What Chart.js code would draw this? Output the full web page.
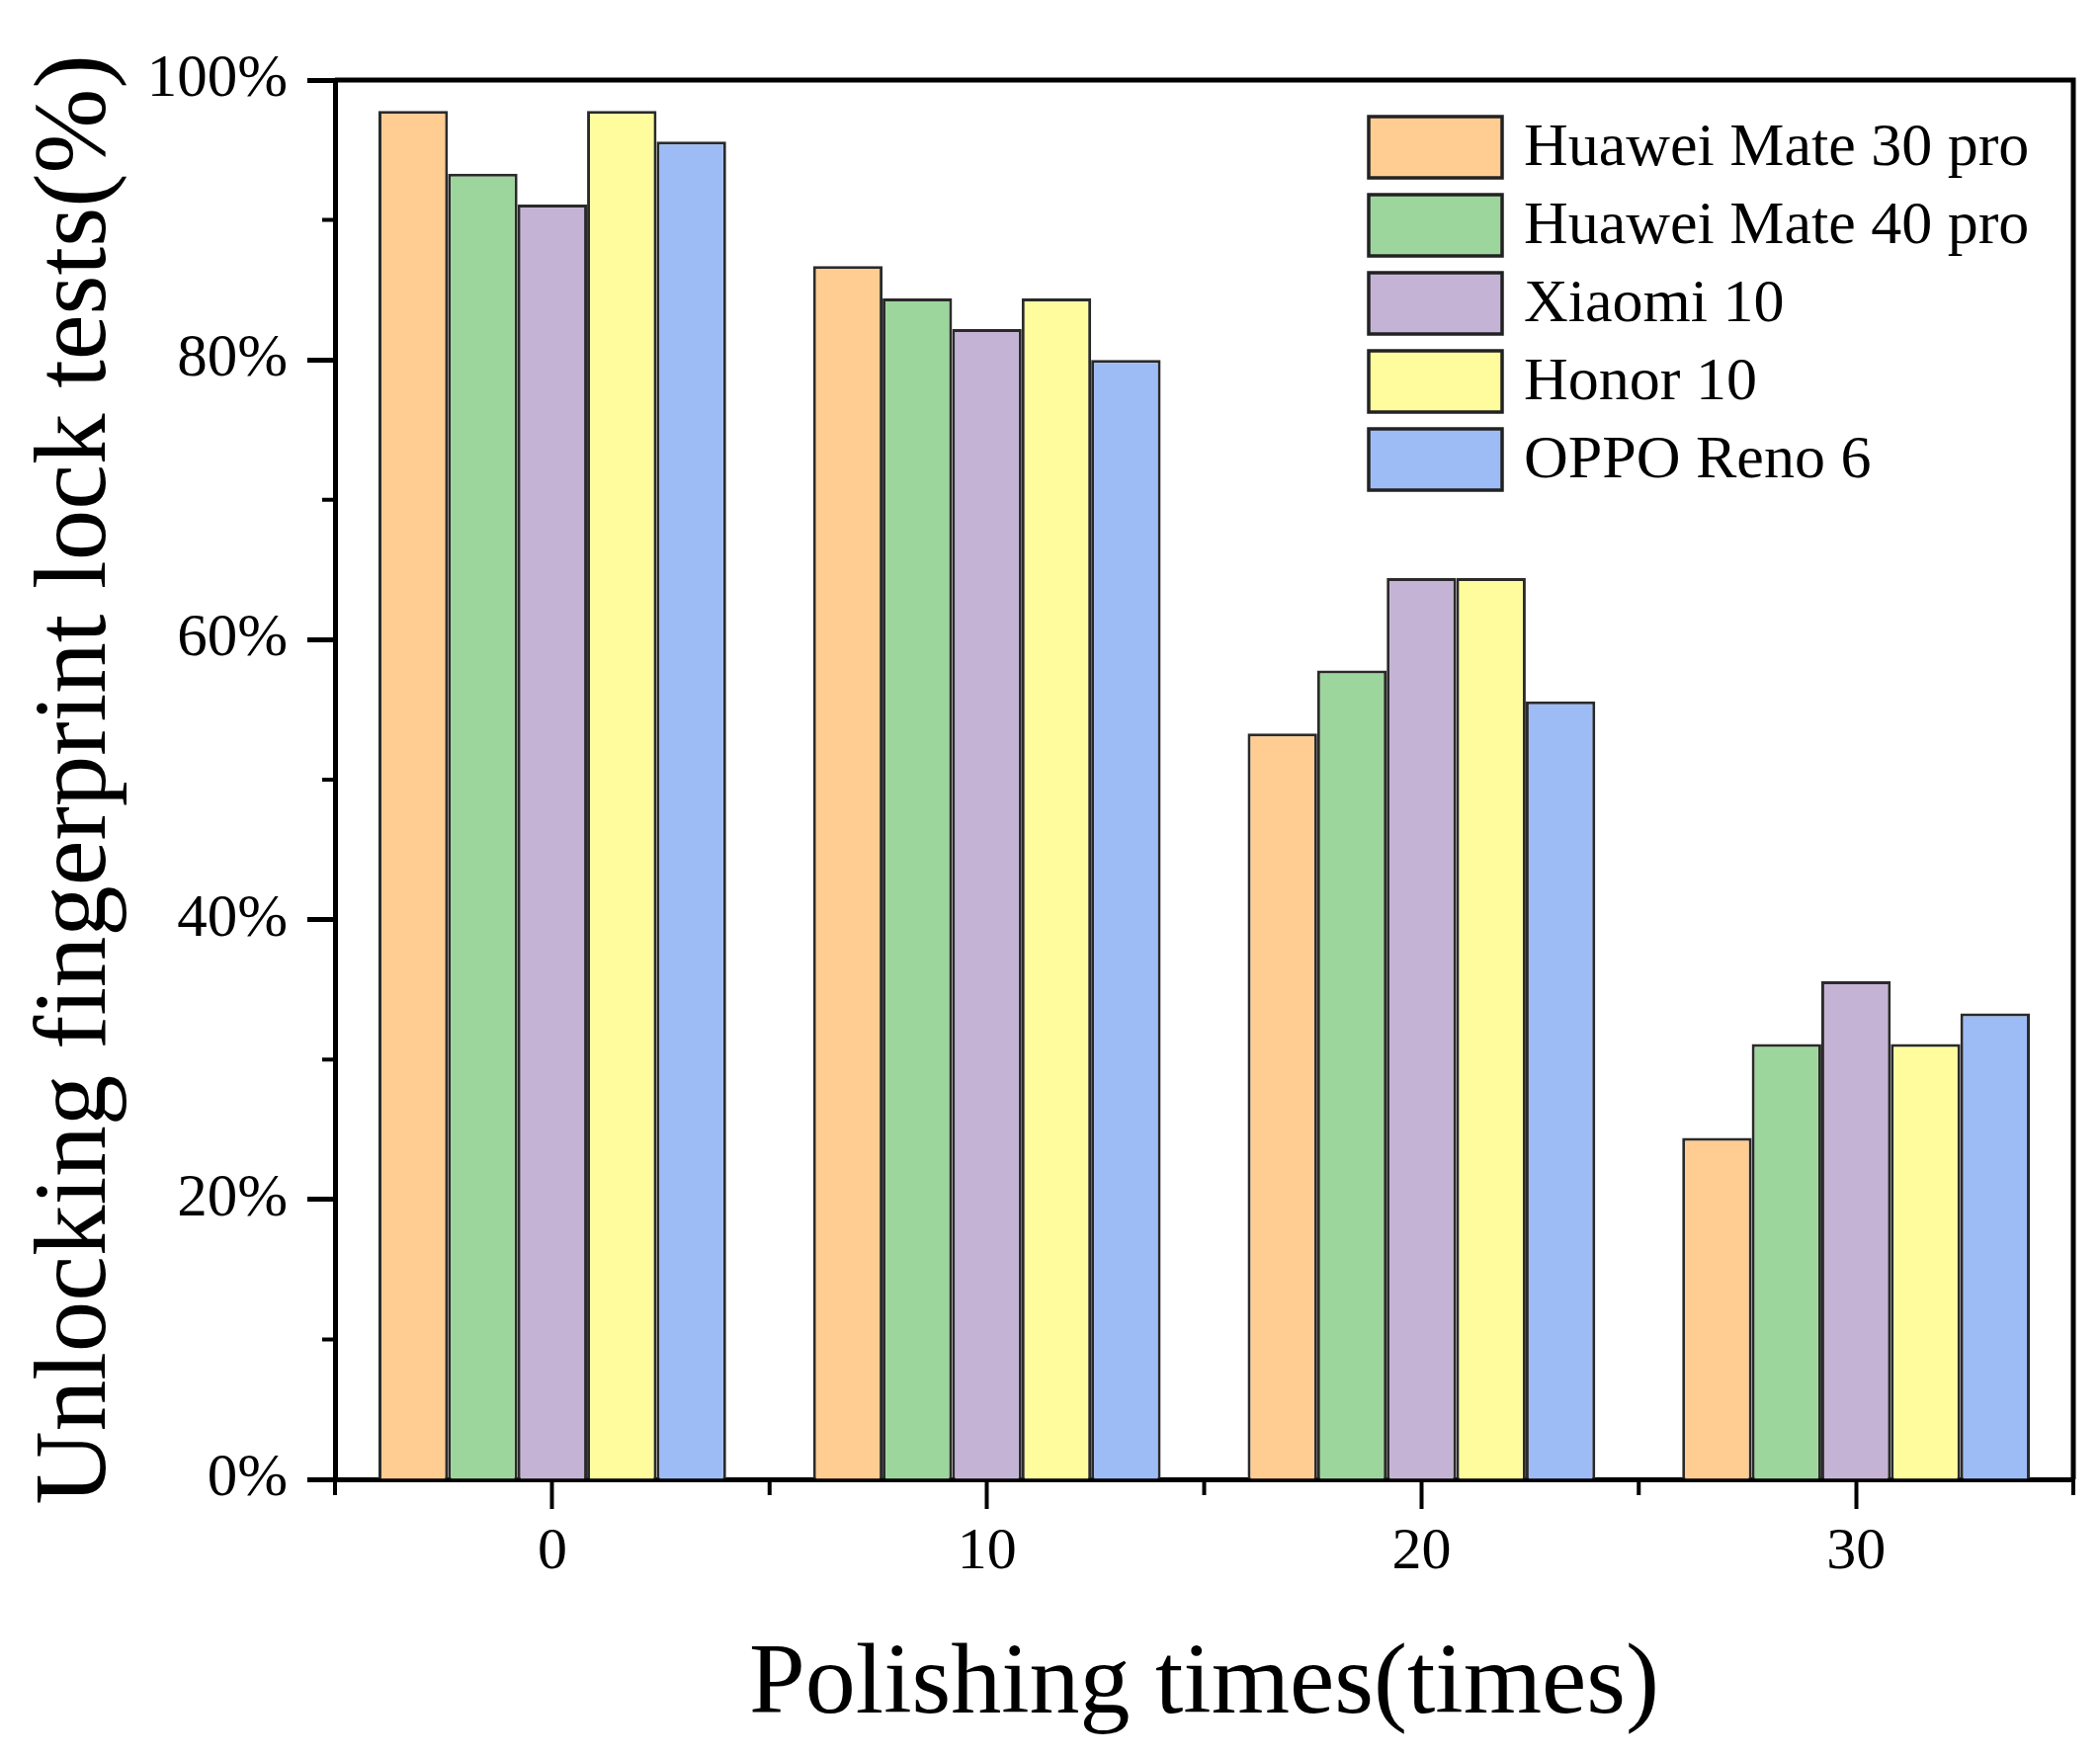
<!DOCTYPE html>
<html>
<head>
<meta charset="utf-8">
<script src="https://cdn.jsdelivr.net/npm/chart.js@4.4.0/dist/chart.umd.min.js"></script>
<style>
  html, body { margin: 0; padding: 0; background: #fff; }
  canvas { display: block; }
</style>
</head>
<body>
<canvas id="barChart" width="2125" height="1777"></canvas>
<script>
  // Data
  const categories = ['0', '10', '20', '30'];
  const seriesNames = ['Huawei Mate 30 pro', 'Huawei Mate 40 pro', 'Xiaomi 10', 'Honor 10', 'OPPO Reno 6'];
  const mate30 = [97.8, 86.7, 53.3, 24.4];
  const mate40 = [93.3, 84.4, 57.8, 31.1];
  const xiaomi10 = [91.1, 82.2, 64.4, 35.6];
  const honor10 = [97.8, 84.4, 64.4, 31.1];
  const reno6 = [95.6, 80.0, 55.6, 33.3];
  const yMinorTicks = [10, 30, 50, 70, 90];

  const colors = ['#FFCC92', '#9DD69C', '#C5B3D6', '#FFFC9E', '#9DBCF5'];
  const serif = "'Liberation Serif', 'Times New Roman', serif";

  // frame on top/right, minor ticks and the boxed legend
  const extras = {
    id: 'extras',
    afterDraw(chart) {
      const { ctx, chartArea: a, scales: { x, y } } = chart;
      ctx.save();
      ctx.strokeStyle = '#000';
      ctx.lineWidth = 5;
      ctx.beginPath();
      ctx.moveTo(a.left, a.top);
      ctx.lineTo(a.right, a.top);
      ctx.lineTo(a.right, a.bottom);
      ctx.stroke();

      // minor ticks
      ctx.lineWidth = 4;
      ctx.beginPath();
      yMinorTicks.forEach(v => {
        const py = y.getPixelForValue(v);
        ctx.moveTo(a.left, py);
        ctx.lineTo(a.left - 13, py);
      });
      const step = x.getPixelForValue(1) - x.getPixelForValue(0);
      for (let i = 0; i <= categories.length; i++) {
        const px = x.getPixelForValue(0) - step / 2 + i * step;
        ctx.moveTo(px, a.bottom);
        ctx.lineTo(px, a.bottom + 16);
      }
      ctx.stroke();

      // legend
      const boxLeft = a.right - 713;
      const boxTop = a.top + 37;
      const boxW = 135, boxH = 62, pitch = 79;
      ctx.font = '62px ' + serif;
      ctx.textBaseline = 'middle';
      ctx.textAlign = 'left';
      chart.data.datasets.forEach((ds, i) => {
        const top = boxTop + i * pitch;
        ctx.fillStyle = ds.backgroundColor;
        ctx.fillRect(boxLeft, top, boxW, boxH);
        ctx.strokeStyle = '#222';
        ctx.lineWidth = 3.5;
        ctx.strokeRect(boxLeft, top, boxW, boxH);
        ctx.fillStyle = '#000';
        ctx.fillText(ds.label, boxLeft + 157, top + boxH / 2 + 2);
      });
      ctx.restore();
    }
  };

  const seriesValues = [mate30, mate40, xiaomi10, honor10, reno6];

  const chart = new Chart(document.getElementById('barChart').getContext('2d'), {
    type: 'bar',
    data: {
      labels: categories,
      datasets: seriesNames.map((name, i) => ({
        label: name,
        data: seriesValues[i],
        backgroundColor: colors[i],
        borderColor: '#2a2a2a',
        borderWidth: 3,
        categoryPercentage: 0.8,
        barPercentage: 1.0
      }))
    },
    options: {
      responsive: false,
      devicePixelRatio: 1,
      animation: false,
      layout: { padding: { top: 81, right: 27, left: 0, bottom: 0 } },
      plugins: {
        legend: { display: false },
        tooltip: { enabled: false }
      },
      scales: {
        x: {
          offset: true,
          grid: { offset: false, drawOnChartArea: false, tickLength: 30, tickWidth: 4, tickColor: '#000' },
          border: { color: '#000', width: 5 },
          ticks: { color: '#000', padding: 8, font: { family: serif, size: 60 } },
          title: {
            display: true,
            text: 'Polishing times(times)',
            color: '#000',
            font: { family: serif, size: 102, lineHeight: 1 },
            padding: { top: 0, bottom: 20 }
          },
          afterFit: s => { s.height = 280; }
        },
        y: {
          min: 0,
          max: 100,
          ticks: {
            stepSize: 20,
            color: '#000',
            padding: 20,
            font: { family: serif, size: 61 },
            callback: v => v + '%'
          },
          grid: { drawOnChartArea: false, tickLength: 28, tickWidth: 5, tickColor: '#000' },
          border: { color: '#000', width: 5 },
          title: {
            display: true,
            text: 'Unlocking fingerprint lock tests(%)',
            color: '#000',
            font: { family: serif, size: 103, lineHeight: 1 },
            padding: { top: 27, bottom: 0 }
          },
          afterFit: s => { s.width = 339; }
        }
      }
    },
    plugins: [extras]
  });
</script>
</body>
</html>
